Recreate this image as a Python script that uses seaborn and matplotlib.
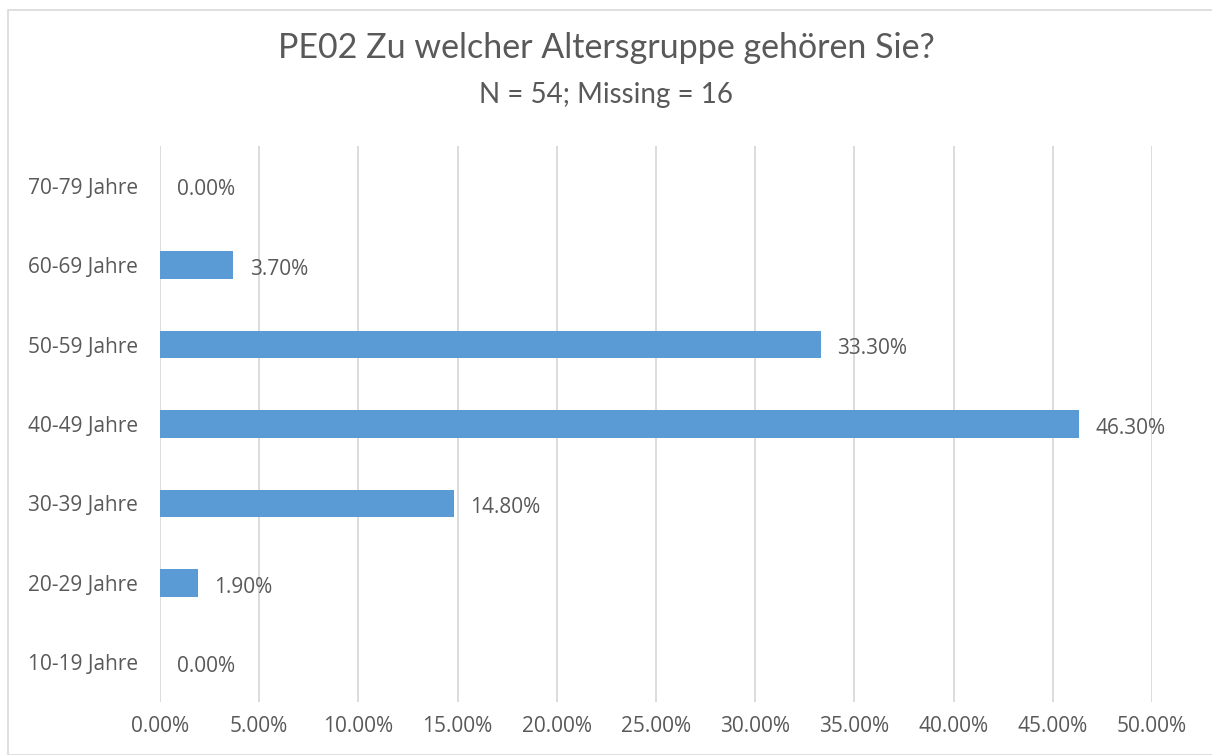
import matplotlib
matplotlib.use("Agg")
import matplotlib.pyplot as plt
import seaborn as sns
import pandas as pd
from matplotlib.patches import Rectangle
from matplotlib.ticker import FuncFormatter, MultipleLocator

# Chart data
categories = ["70-79 Jahre", "60-69 Jahre", "50-59 Jahre", "40-49 Jahre",
              "30-39 Jahre", "20-29 Jahre", "10-19 Jahre"]
shares = [0.00, 3.70, 33.30, 46.30, 14.80, 1.90, 0.00]
title = "PE02 Zu welcher Altersgruppe gehören Sie?"
subtitle = "N = 54; Missing = 16"

df = pd.DataFrame({"Altersgruppe": categories, "Anteil": shares})

sns.set_theme(style="white")
plt.rcParams["font.family"] = ["Open Sans", "DejaVu Sans"]

text_color = "#595959"
bar_color = "#5B9BD5"
grid_color = "#D9D9D9"

fig = plt.figure(figsize=(12.12, 7.55), dpi=100)
ax = fig.add_axes([0.132, 0.0702, 0.8185, 0.7364])

sns.barplot(data=df, x="Anteil", y="Altersgruppe", order=categories,
            color=bar_color, width=0.35, saturation=1, linewidth=0,
            ax=ax, zorder=3)

ax.set_xlim(0, 50)
ax.xaxis.set_major_locator(MultipleLocator(5))
ax.xaxis.set_major_formatter(FuncFormatter(lambda v, p: f"{v:.2f}%"))
ax.grid(axis="x", color=grid_color, linewidth=1.3, zorder=0)
ax.grid(axis="y", visible=False)
ax.set_xlabel("")
ax.set_ylabel("")
for s in ax.spines.values():
    s.set_visible(False)
ax.tick_params(axis="y", length=0, pad=16, labelsize=15, labelcolor=text_color)
ax.tick_params(axis="x", length=0, pad=10, labelsize=15, labelcolor=text_color)

# value labels next to the bars
for i, v in enumerate(shares):
    ax.annotate(f"{v:.2f}%", xy=(v, i), xytext=(12, -3), textcoords="offset points",
                va="center", ha="left", fontsize=15, color=text_color)

fig.text(0.5, 0.937, title, ha="center", va="center", fontsize=24.5,
         color=text_color, family=["Lato", "DejaVu Sans"])
fig.text(0.5, 0.874, subtitle, ha="center", va="center", fontsize=20,
         color=text_color, family=["Lato", "DejaVu Sans"])

# light frame round the chart area
fig.patches.append(Rectangle((8 / 1212, 0), 1.0, 1 - 10 / 755,
                             transform=fig.transFigure, fill=False,
                             edgecolor="#D9D9D9", linewidth=1.2))

fig.savefig("out.png", dpi=100)
